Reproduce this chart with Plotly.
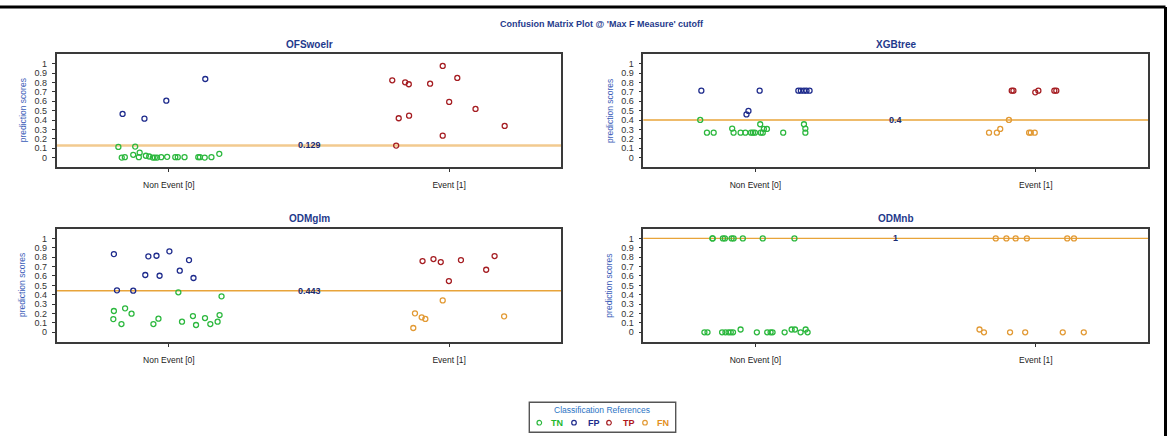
import plotly.graph_objects as go

W, H = 1168, 436

# ---------------- data ----------------
panel_names = ["OFSwoelr", "XGBtree", "ODMglm", "ODMnb"]
thresholds = [0.129, 0.4, 0.443, 1.0]
threshold_labels = ["0.129", "0.4", "0.443", "1"]
x_categories = ["Non Event [0]", "Event [1]"]
y_tick_values = [0, 0.1, 0.2, 0.3, 0.4, 0.5, 0.6, 0.7, 0.8, 0.9, 1]
y_tick_labels = ["0", "0.1", "0.2", "0.3", "0.4", "0.5", "0.6", "0.7", "0.8", "0.9", "1"]
classes = ["TN", "FP", "TP", "FN"]

# OFSwoelr
ofs_tn_x = [-0.180, -0.168, -0.157, -0.127, -0.120, -0.104, -0.107, -0.082, -0.070, -0.057, -0.050,
            -0.042, -0.027, -0.006, 0.023, 0.032, 0.056, 0.105, 0.111, 0.128, 0.152, 0.180]
ofs_tn_y = [0.114, 0.0, 0.005, 0.03, 0.117, 0.053, 0.005, 0.02, 0.012, 0.0, 0.0,
            0.0, 0.005, 0.008, 0.005, 0.005, 0.005, 0.005, 0.005, 0.0, 0.005, 0.04]
ofs_fp_x = [-0.165, -0.087, -0.009, 0.130]
ofs_fp_y = [0.465, 0.415, 0.606, 0.837]
ofs_tp_x = [0.797, 0.843, 0.856, 0.932, 0.977, 1.029, 1.000, 1.094, 1.198, 0.820, 0.857, 0.977, 0.811]
ofs_tp_y = [0.823, 0.802, 0.781, 0.787, 0.976, 0.848, 0.593, 0.518, 0.337, 0.419, 0.447, 0.234, 0.128]
ofs_fn_x = []
ofs_fn_y = []

# XGBtree
xgb_tn_x = [-0.197, -0.173, -0.149, -0.083, -0.078, -0.053, -0.036, -0.016, -0.009, -0.002,
            0.017, 0.019, 0.026, 0.030, 0.041, 0.099, 0.173, 0.178, 0.178]
xgb_tn_y = [0.401, 0.266, 0.266, 0.309, 0.266, 0.266, 0.266, 0.266, 0.266, 0.266,
            0.355, 0.266, 0.266, 0.305, 0.305, 0.266, 0.355, 0.309, 0.266]
xgb_fp_x = [-0.193, -0.032, -0.025, 0.015, 0.153, 0.162, 0.173, 0.182, 0.193]
xgb_fp_y = [0.713, 0.46, 0.497, 0.713, 0.713, 0.713, 0.713, 0.713, 0.713]
xgb_tp_x = [0.914, 0.920, 0.998, 1.009, 1.066, 1.073]
xgb_tp_y = [0.713, 0.713, 0.695, 0.713, 0.713, 0.713]
xgb_fn_x = [0.833, 0.861, 0.873, 0.904, 0.976, 0.982, 0.996]
xgb_fn_y = [0.266, 0.266, 0.305, 0.401, 0.266, 0.266, 0.266]

# ODMglm
glm_tn_x = [-0.196, -0.198, -0.169, -0.156, -0.133, -0.055, -0.037, 0.034, 0.047, 0.086,
            0.097, 0.129, 0.148, 0.174, 0.181, 0.188]
glm_tn_y = [0.227, 0.141, 0.088, 0.255, 0.198, 0.088, 0.145, 0.426, 0.113, 0.173,
            0.078, 0.152, 0.088, 0.113, 0.184, 0.383]
glm_fp_x = [-0.196, -0.185, -0.127, -0.084, -0.073, -0.044, -0.033, 0.002, 0.039, 0.072, 0.088]
glm_fp_y = [0.833, 0.447, 0.443, 0.61, 0.809, 0.815, 0.602, 0.862, 0.656, 0.769, 0.578]
glm_tp_x = [0.905, 0.944, 0.970, 0.999, 1.042, 1.132, 1.162]
glm_tp_y = [0.759, 0.78, 0.748, 0.546, 0.769, 0.666, 0.812]
glm_fn_x = [0.878, 0.902, 0.915, 0.872, 0.977, 1.196]
glm_fn_y = [0.202, 0.16, 0.142, 0.046, 0.34, 0.17]

# ODMnb
nb_tn_x = [-0.153, -0.153, -0.116, -0.109, -0.085, -0.078, -0.045, 0.026, 0.139,
           -0.182, -0.171, -0.119, -0.107, -0.096, -0.088, -0.080, -0.053, 0.005, 0.042,
           0.054, 0.061, 0.104, 0.129, 0.141, 0.161, 0.179, 0.186]
nb_tn_y = [1, 1, 1, 1, 1, 1, 1, 1, 1,
           0, 0, 0, 0, 0, 0, 0, 0.03, 0, 0,
           0, 0, 0, 0.03, 0.03, 0, 0.03, 0]
nb_fp_x = []
nb_fp_y = []
nb_tp_x = []
nb_tp_y = []
nb_fn_x = [0.857, 0.895, 0.928, 0.968, 1.112, 1.136, 0.799, 0.815, 0.908, 0.962, 1.096, 1.171]
nb_fn_y = [1, 1, 1, 1, 1, 1, 0.03, 0, 0, 0, 0, 0]

panel_data = [
    {"TN": (ofs_tn_x, ofs_tn_y), "FP": (ofs_fp_x, ofs_fp_y), "TP": (ofs_tp_x, ofs_tp_y), "FN": (ofs_fn_x, ofs_fn_y)},
    {"TN": (xgb_tn_x, xgb_tn_y), "FP": (xgb_fp_x, xgb_fp_y), "TP": (xgb_tp_x, xgb_tp_y), "FN": (xgb_fn_x, xgb_fn_y)},
    {"TN": (glm_tn_x, glm_tn_y), "FP": (glm_fp_x, glm_fp_y), "TP": (glm_tp_x, glm_tp_y), "FN": (glm_fn_x, glm_fn_y)},
    {"TN": (nb_tn_x, nb_tn_y), "FP": (nb_fp_x, nb_fp_y), "TP": (nb_tp_x, nb_tp_y), "FN": (nb_fn_x, nb_fn_y)},
]

# ---------------- styles ----------------
FONT = "Liberation Sans, Arial, sans-serif"
point_colors = {"TN": "#2cb83e", "FP": "#1e2b8c", "TP": "#a51d22", "FN": "#e29a35"}
legend_text_colors = {"TN": "#1fb82f", "FP": "#1e2b8c", "TP": "#b0161c", "FN": "#e3901e"}
title_blue = "#1f3a8c"
axis_title_blue = "#3a5cb8"
threshold_colors = ["#f2ca8f", "#e8a43a", "#e8a43a", "#e8a43a"]
threshold_widths = [2.6, 1.4, 1.4, 1.4]


def px_x(p):
    return p / W


def px_y(p):
    return 1 - p / H


# panel boxes in pixels: (left, right, top, bottom)
boxes = [
    (56.7, 561.3, 54.3, 167.0),
    (643.3, 1148.0, 54.3, 167.0),
    (56.7, 561.3, 229.0, 341.7),
    (643.3, 1148.0, 229.0, 341.7),
]

fig = go.Figure()
layout = dict(
    width=W, height=H, autosize=False,
    margin=dict(l=0, r=0, t=0, b=0),
    paper_bgcolor="white", plot_bgcolor="white",
    showlegend=False,
    font=dict(family=FONT, color="#222"),
)
annotations = []
shapes = []


def text_note(x, y, text, size, color, **kw):
    d = dict(x=x, y=y, xref="paper", yref="paper", text=text, showarrow=False,
             xanchor="center", yanchor="middle",
             font=dict(size=size, color=color, family=FONT))
    d.update(kw)
    return d


for i, (name, box) in enumerate(zip(panel_names, boxes)):
    k = "" if i == 0 else str(i + 1)
    l, r, t, b = box
    layout["xaxis" + k] = dict(
        domain=[px_x(l), px_x(r)], range=[-0.4, 1.4], anchor="y" + k,
        tickvals=[0, 1], ticktext=x_categories, ticks="outside", ticklen=3,
        tickcolor="#333", tickwidth=1, showline=True, mirror=True, linecolor="#3a3a3a",
        linewidth=1.6, showgrid=False, zeroline=False,
        tickfont=dict(size=8.5, color="#222", family=FONT), ticklabelstandoff=6,
        fixedrange=True,
    )
    layout["yaxis" + k] = dict(
        domain=[px_y(b), px_y(t)], range=[-0.1, 1.1], anchor="x" + k,
        tickvals=y_tick_values, ticktext=y_tick_labels, ticks="outside", ticklen=3,
        tickcolor="#333", tickwidth=1, showline=True, mirror=True, linecolor="#3a3a3a",
        linewidth=1.6, showgrid=False, zeroline=False,
        tickfont=dict(size=9, color="#333", family=FONT), ticklabelstandoff=3,
        fixedrange=True,
    )
    xref = "x" + k
    yref = "y" + k
    for c in classes:
        xs, ys = panel_data[i][c]
        if not xs:
            continue
        fig.add_trace(go.Scatter(
            x=xs, y=ys, mode="markers", xaxis=xref, yaxis=yref, name=c,
            marker=dict(symbol="circle-open", size=5, color=point_colors[c],
                        line=dict(width=1.3, color=point_colors[c])),
            hoverinfo="x+y",
        ))
    # threshold line
    shapes.append(dict(type="line", xref=xref + " domain", yref=yref, x0=0, x1=1,
                       y0=thresholds[i], y1=thresholds[i], layer="below",
                       line=dict(color=threshold_colors[i], width=threshold_widths[i])))
    annotations.append(dict(x=0.5, y=thresholds[i], xref=xref, yref=yref,
                            text="<b>%s</b>" % threshold_labels[i], showarrow=False,
                            xanchor="center", yanchor="middle",
                            font=dict(size=9, color="#1a2a70", family=FONT)))
    # panel title
    annotations.append(dict(x=0.5, y=px_y(t - 10.3), xref=xref + " domain", yref="paper",
                            text="<b>%s</b>" % name, showarrow=False,
                            xanchor="center", yanchor="middle",
                            font=dict(size=10, color=title_blue, family=FONT)))
    # y axis title
    annotations.append(dict(x=0, y=0.5, xref=xref + " domain", yref=yref + " domain",
                            xshift=-34, text="prediction scores", textangle=-90,
                            showarrow=False, xanchor="center", yanchor="middle",
                            font=dict(size=8.5, color=axis_title_blue, family=FONT)))

# main title
annotations.append(text_note(px_x(602), px_y(23.5),
                             "<b>Confusion Matrix Plot @ 'Max F Measure' cutoff</b>", 9, title_blue))

# figure frame (top and right edges)
shapes.append(dict(type="line", xref="paper", yref="paper", x0=0, x1=px_x(1165.5),
                   y0=px_y(7), y1=px_y(7), line=dict(color="black", width=3)))
shapes.append(dict(type="line", xref="paper", yref="paper", x0=px_x(1165.5), x1=px_x(1165.5),
                   y0=px_y(7), y1=0, line=dict(color="black", width=3)))

# legend box
shapes.append(dict(type="rect", xref="paper", yref="paper", x0=px_x(529.3), x1=px_x(675.7),
                   y0=px_y(432.3), y1=px_y(402.3), line=dict(color="#555", width=1.4),
                   fillcolor="white", layer="below"))
annotations.append(text_note(px_x(601.7), px_y(409.5), "Classification References", 8.5, "#2b74c4"))
legend_marker_x = [539.3, 574.0, 609.0, 645.0]
legend_text_x = [557.3, 594.3, 629.3, 663.3]
ly = 422.7
for c, mx, tx in zip(classes, legend_marker_x, legend_text_x):
    rr = 2.3
    shapes.append(dict(type="circle", xref="paper", yref="paper",
                       x0=px_x(mx - rr), x1=px_x(mx + rr), y0=px_y(ly + rr), y1=px_y(ly - rr),
                       line=dict(color=point_colors[c], width=1.2)))
    annotations.append(text_note(px_x(tx), px_y(ly), "<b>%s</b>" % c, 9, legend_text_colors[c]))

layout["annotations"] = annotations
layout["shapes"] = shapes
fig.update_layout(**layout)
fig.write_html("out.html", post_script="document.body.style.margin='0px';",
               config={"displayModeBar": False})
